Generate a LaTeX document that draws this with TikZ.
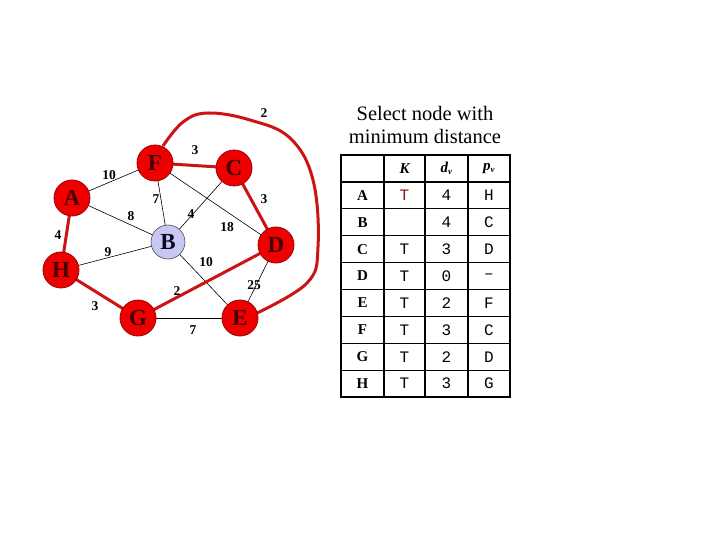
\documentclass[tikz,border=0pt]{standalone}
\usepackage{fontspec}
\setmainfont{Liberation Serif}
\setmonofont{Liberation Mono}
\begin{document}
\begin{tikzpicture}[x=1pt,y=-1pt,
  vred/.style={circle,draw=red!60!black,line width=0.8pt,fill={rgb,255:red,238;green,0;blue,0},minimum size=36pt,inner sep=0pt,font=\fontsize{23}{23}\selectfont\bfseries,text={rgb,255:red,70;green,0;blue,0}},
  vblue/.style={circle,draw=black!70,line width=0.6pt,fill={rgb,255:red,200;green,200;blue,242},minimum size=34pt,inner sep=0pt,font=\fontsize{23}{23}\selectfont\bfseries,text={rgb,255:red,10;green,10;blue,40}},
  thin edge/.style={draw=black,line width=0.6pt},
  red edge/.style={draw={rgb,255:red,205;green,20;blue,20},line width=3pt},
  wlabel/.style={font=\bfseries\fontsize{13.5}{14}\selectfont,inner sep=0pt},
  cellhead/.style={font=\bfseries\itshape\fontsize{15}{15}\selectfont},
  cellrow/.style={font=\bfseries\fontsize{15}{15}\selectfont},
  cellmono/.style={font=\ttfamily\fontsize{16}{16}\selectfont},
]
\useasboundingbox (0,0) rectangle (720,540);
\fill[white] (0,0) rectangle (720,540);

\coordinate (Fp) at (155,163);
\coordinate (Cp) at (234,168);
\coordinate (Ap) at (72,198);
\coordinate (Bp) at (168,242);
\coordinate (Hp) at (61,270);
\coordinate (Dp) at (276,245);
\coordinate (Gp) at (138,318);
\coordinate (Ep) at (240,318);

\draw[thin edge] (Ap) -- (Fp);
\draw[thin edge] (Ap) -- (Bp);
\draw[thin edge] (Fp) -- (Bp);
\draw[thin edge] (Fp) -- (Dp);
\draw[thin edge] (Cp) -- (Bp);
\draw[thin edge] (Hp) -- (Bp);
\draw[thin edge] (Bp) -- (Ep);
\draw[thin edge] (Dp) -- (Ep);
\draw[thin edge] (Gp) -- (Ep);
\draw[red edge] (Fp) -- (Cp);
\draw[red edge] (Cp) -- (Dp);
\draw[red edge] (Ap) -- (Hp);
\draw[red edge] (Hp) -- (Gp);
\draw[red edge] (Gp) -- (Dp);
\draw[red edge] plot[smooth,tension=0.65] coordinates {(163,146) (183,122) (208,113) (250,120) (290,138) (313,180) (318,247) (307,283) (257,313)};

\node[vred] (F) at (Fp) {F};
\node[vred] (C) at (Cp) {C};
\node[vred] (A) at (Ap) {A};
\node[vblue] (B) at (Bp) {B};
\node[vred] (H) at (Hp) {H};
\node[vred] (D) at (Dp) {D};
\node[vred] (G) at (Gp) {G};
\node[vred] (E) at (Ep) {E};

\node[wlabel] (w1) at (264,113) {2};
\node[wlabel] (w2) at (195,150) {3};
\node[wlabel] (w3) at (109,175) {10};
\node[wlabel] (w4) at (156,199) {7};
\node[wlabel] (w5) at (131,216) {8};
\node[wlabel] (w6) at (191,214) {4};
\node[wlabel] (w7) at (264,199) {3};
\node[wlabel] (w8) at (227,227) {18};
\node[wlabel] (w9) at (58,235) {4};
\node[wlabel] (w10) at (108,252) {9};
\node[wlabel] (w11) at (206,262) {10};
\node[wlabel] (w12) at (177,291) {2};
\node[wlabel] (w13) at (254,285) {25};
\node[wlabel] (w14) at (95,306) {3};
\node[wlabel] (w15) at (193,330) {7};

\node[font=\fontsize{20.5}{23}\selectfont,align=center] (title) at (425,124.5) {Select node with\\minimum distance};

\foreach \i in {1,...,8} {\draw[line width=1.3pt] (341,{155+26.9*\i}) -- (510,{155+26.9*\i});}
\foreach \xx in {384,425,468} {\draw[line width=1.3pt] (\xx,155) -- (\xx,397);}
\draw[line width=2.6pt] (341,155) rectangle (510,397);

\node[cellhead] (hK) at (404.5,168.5) {K};
\node[cellhead] (hd) at (446.5,168.5) {d\textsubscript{\fontsize{9}{9}\selectfont v}};
\node[cellhead] (hp) at (489,168.5) {p\textsubscript{\fontsize{9}{9}\selectfont v}};

\foreach \r/\k/\d/\p [count=\n] in {A/T/4/H, B/ /4/C, C/T/3/D, D/T/0/\textendash, E/T/2/F, F/T/3/C, G/T/2/D, H/T/3/G} {
  \node[cellrow] (r\n) at (362.5,{168.5+26.9*\n}) {\r};
  \node[cellmono] (d\n) at (446.5,{168.5+26.9*\n}) {\d};
  \node[cellmono] (p\n) at (489,{168.5+26.9*\n}) {\p};
}
\node[cellmono,text={rgb,255:red,150;green,20;blue,20}] (k1) at (404.5,195.4) {T};
\foreach \n in {3,...,8} {\node[cellmono] (k\n) at (404.5,{168.5+26.9*\n}) {T};}
\end{tikzpicture}
\end{document}
